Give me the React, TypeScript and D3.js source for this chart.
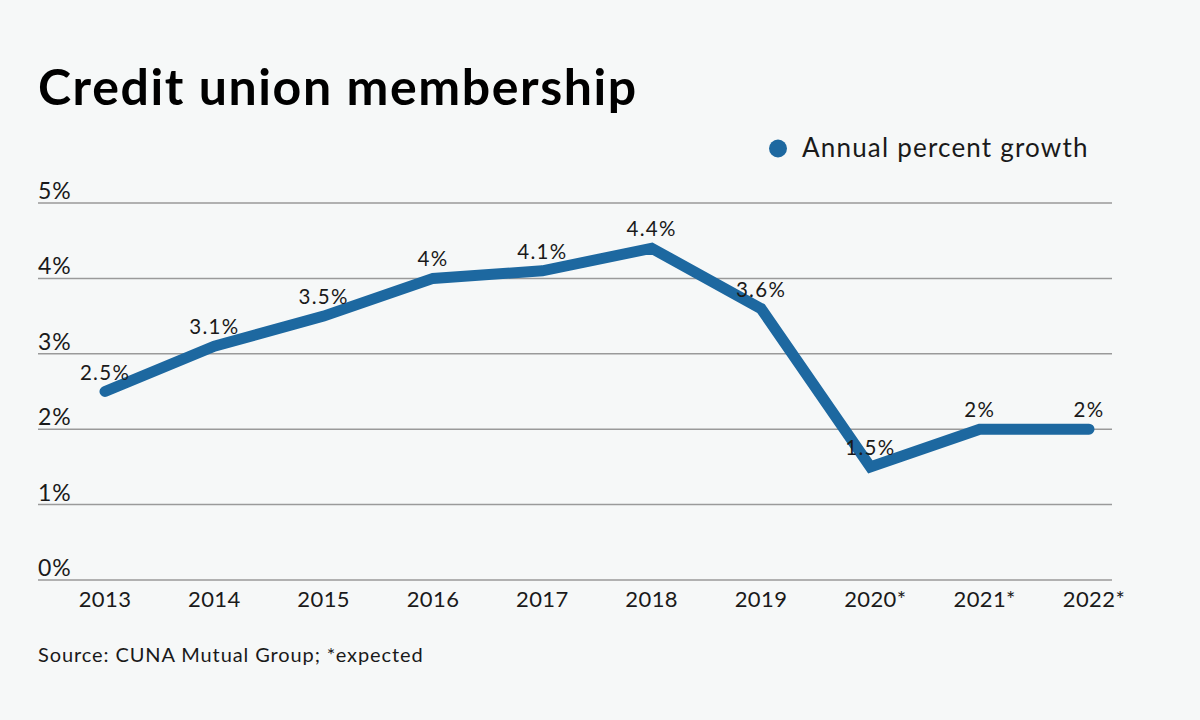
import React from "react";
import * as d3 from "d3";

const years = ["2013", "2014", "2015", "2016", "2017", "2018", "2019", "2020*", "2021*", "2022*"];
const growth = [2.5, 3.1, 3.5, 4, 4.1, 4.4, 3.6, 1.5, 2, 2];
const growthLabels = ["2.5%", "3.1%", "3.5%", "4%", "4.1%", "4.4%", "3.6%", "1.5%", "2%", "2%"];
const yTicks = [0, 1, 2, 3, 4, 5];

const W = 1200;
const H = 720;
const FONT = "Lato, 'Open Sans', sans-serif";
const BLUE = "#1d68a0";
const INK = "#1a1a1a";

export default function App() {
  const x = d3.scalePoint<string>().domain(years).range([105, 1089]);
  const y = d3.scaleLinear().domain([0, 5]).range([580, 203]);
  const line = d3
    .line<number>()
    .x((_, i) => x(years[i]) as number)
    .y((d) => y(d));

  return (
    <svg width={W} height={H} style={{ position: "absolute", left: 0, top: 0, display: "block" }}>
      <rect x={0} y={0} width={W} height={H} fill="#f6f8f8" />
      <text x={38} y={105} fontFamily={FONT} fontWeight={700} fontSize={50} letterSpacing={1.6} fill="#000">
        Credit union membership
      </text>

      <circle cx={778} cy={148.5} r={9} fill={BLUE} />
      <text x={802} y={157} fontFamily={FONT} fontSize={26} letterSpacing={1.2} fill={INK}>
        Annual percent growth
      </text>

      {yTicks.map((t) => (
        <g key={t}>
          <line x1={38} x2={1112} y1={y(t)} y2={y(t)} stroke="#9a9a9a" strokeWidth={1.5} />
          <text x={38} y={y(t) - 4} fontFamily={FONT} fontSize={23} letterSpacing={1} fill={INK}>
            {`${t}%`}
          </text>
        </g>
      ))}

      {years.map((yr) => (
        <text
          key={yr}
          x={(x(yr) as number) + (yr.endsWith("*") ? 5 : 0)}
          y={607}
          textAnchor="middle"
          fontFamily={FONT}
          fontSize={22}
          letterSpacing={0.4}
          fill={INK}
        >
          {yr}
        </text>
      ))}

      <path
        d={line(growth) ?? ""}
        fill="none"
        stroke={BLUE}
        strokeWidth={11}
        strokeLinecap="round"
        strokeLinejoin="miter"
      />

      {growth.map((v, i) => (
        <text
          key={i}
          x={x(years[i]) as number}
          y={y(v) - 12}
          textAnchor="middle"
          fontFamily={FONT}
          fontSize={20.5}
          letterSpacing={1.3}
          fill={INK}
        >
          {growthLabels[i]}
        </text>
      ))}

      <text x={38} y={662} fontFamily={FONT} fontSize={20} letterSpacing={0.9} fill={INK}>
        Source: CUNA Mutual Group; *expected
      </text>
    </svg>
  );
}
